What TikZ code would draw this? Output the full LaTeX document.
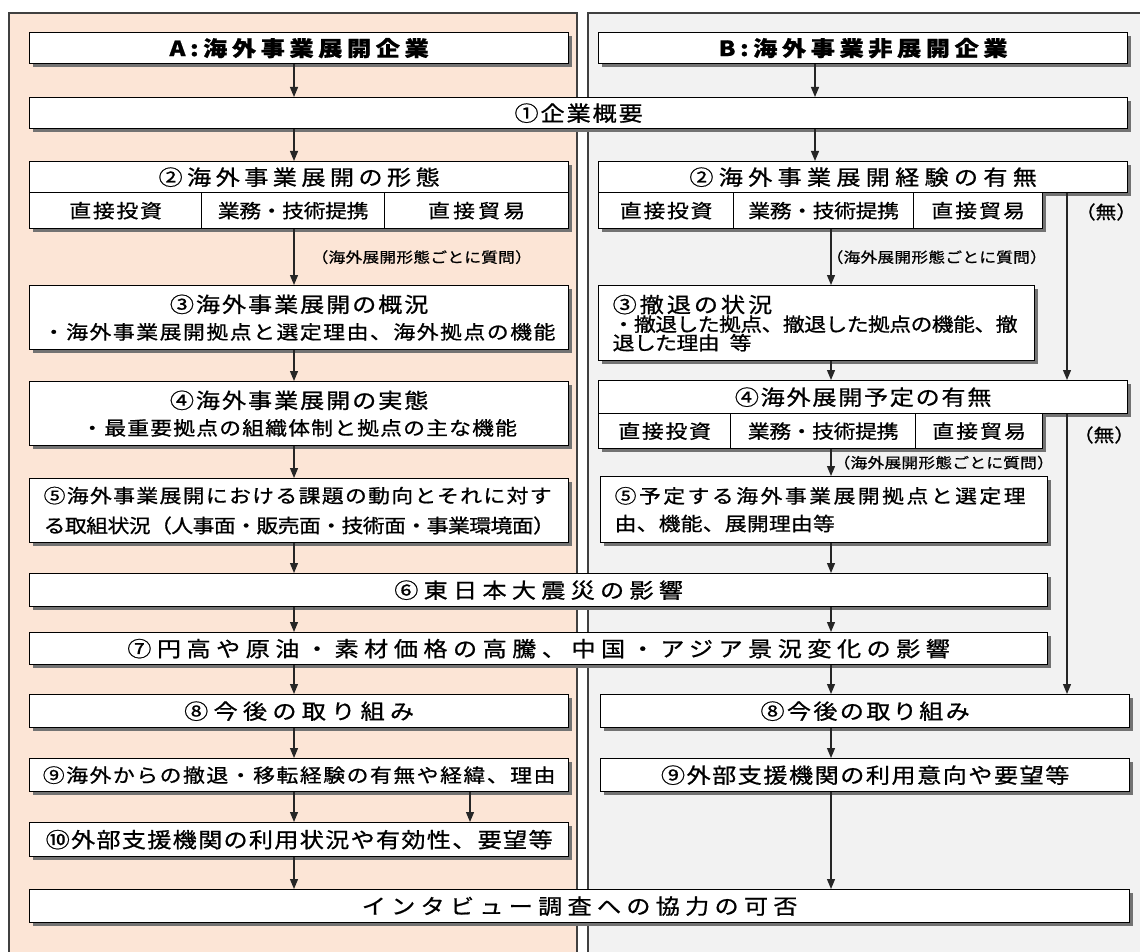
\documentclass[tikz,border=0pt]{standalone}
\usepackage{fontspec}
\newfontfamily\jp[FakeStretch=1.15, FakeBold=0.8]{Noto Sans CJK JP}
\usetikzlibrary{positioning,shadows,arrows.meta}
\definecolor{peach}{RGB}{252,229,214}
\definecolor{panelgray}{RGB}{242,242,242}
\definecolor{edgegray}{RGB}{64,64,64}
\newcommand\ttxt[2]{{\fontsize{21}{25}\selectfont\addfontfeature{LetterSpace=#1}#2}}
\newcommand\dtxt[2]{{\fontsize{19}{22}\selectfont\addfontfeature{LetterSpace=#1}#2}}
\tikzset{
  panel/.style={draw=edgegray, line width=1.5pt},
  box/.style={draw=black, line width=1.3pt, fill=white, anchor=north west, inner sep=0pt,
    drop shadow={shadow xshift=3pt, shadow yshift=-3pt, fill=black!55, opacity=1}},
  sz/.style 2 args={minimum width=#1pt, minimum height=#2pt},
  hdr/.style={font=\jp\bfseries\fontsize{21}{25}\selectfont\addfontfeature{LetterSpace=#1}},
  ttl/.style={font=\jp\fontsize{21}{25}\selectfont\addfontfeature{LetterSpace=#1}},
  dtl/.style={font=\jp\fontsize{19}{22}\selectfont\addfontfeature{LetterSpace=#1}},
  cell/.style={box, font=\jp\fontsize{19}{22}\selectfont\addfontfeature{LetterSpace=#1}},
  lbl/.style={font=\jp\fontsize{14.5}{17}\selectfont\addfontfeature{LetterSpace=2}, inner sep=0pt},
  none/.style={font=\jp\fontsize{18}{21}\selectfont, inner sep=0pt},
}
\begin{document}
\begin{tikzpicture}[x=1pt, y=-1pt, >={Triangle[length=10pt,width=8pt]},
    every edge/.append style={->, draw=black!85, line width=1.2pt}]
  \useasboundingbox (0,0) rectangle (1140,952);
  % two panels
  \draw[panel, fill=peach] (9,13) rectangle (577,990);
  \draw[panel, fill=panelgray] (588,13) rectangle (1180,990);

  % arrow columns
  \coordinate (xL) at (294,0);
  \coordinate (xL2) at (470,0);
  \coordinate (xR1) at (815,0);
  \coordinate (xR) at (831,0);
  \coordinate (xN) at (1067,0);

  \node [box, sz={539}{31}, hdr=22] (hA) at (29,32) {A:海外事業展開企業};
  \node [box, sz={529}{31}, hdr=22] (hB) at (598,32) {B:海外事業非展開企業};
  \node [box, sz={1098}{31}, ttl=9] (c1) at (29,97) {①企業概要};

  % A side, 2-5
  \node [box, sz={539}{31}, ttl=21] (b2L) at (29,161) {②海外事業展開の形態};
  \node [cell=9, sz={172}{36}] (b2La) at (29,192) {直接投資};
  \node [cell=-2, sz={183}{36}] (b2Lb) at (201,192) {業務・技術提携};
  \node [cell=17, sz={184}{36}] (b2Lc) at (384,192) {直接貿易};
  \node [box, sz={539}{64}, align=center, font=\jp] (b3L) at (29,285)
    {\ttxt{9}{③海外事業展開の概況}\\[8pt]\dtxt{8}{・海外事業展開拠点と選定理由、海外拠点の機能}};
  \node [box, sz={539}{64}, align=center, font=\jp] (b4L) at (29,381)
    {\ttxt{9}{④海外事業展開の実態}\\[8pt]\dtxt{6}{・最重要拠点の組織体制と拠点の主な機能}};
  \node [box, sz={539}{64}, align=left, text width=511pt, inner xsep=14pt, font=\jp] (b5L) at (29,478)
    {\dtxt{7}{⑤海外事業展開における課題の動向とそれに対す}\\[11pt]\dtxt{-3}{る取組状況（人事面・販売面・技術面・事業環境面）}};

  % B side, 2-5
  \node [box, sz={529}{31}, ttl=25] (b2R) at (598,161) {②海外事業展開経験の有無};
  \node [cell=9, sz={135}{36}] (b2Ra) at (598,192) {直接投資};
  \node [cell=-2, sz={180}{36}] (b2Rb) at (733,192) {業務・技術提携};
  \node [cell=11, sz={129}{36}] (b2Rc) at (913,192) {直接貿易};
  \node [none] (none1) at (1106,212) {（無）};
  \node [box, sz={436}{75}, align=left, text width=408pt, inner xsep=14pt, font=\jp] (b3R) at (598,285)
    {\ttxt{14}{③撤退の状況}\\\dtxt{-3}{・撤退した拠点、撤退した拠点の機能、撤}\\\dtxt{-3}{退した理由\hspace{10pt}等}};
  \node [box, sz={529}{33}, ttl=8] (b4R) at (598,380) {④海外展開予定の有無};
  \node [cell=9, sz={132}{35}] (b4Ra) at (598,413) {直接投資};
  \node [cell=-2, sz={185}{35}] (b4Rb) at (730,413) {業務・技術提携};
  \node [cell=11, sz={127}{35}] (b4Rc) at (915,413) {直接貿易};
  \node [none] (none2) at (1104,435) {（無）};
  \node [box, sz={447}{66}, align=left, text width=419pt, inner xsep=14pt, font=\jp] (b5R) at (600,476)
    {\dtxt{13}{⑤予定する海外事業展開拠点と選定理}\\[9pt]\dtxt{1}{由、機能、展開理由等}};

  % common 6-7
  \node [box, sz={1018}{33}, ttl=25] (c6) at (29,573) {⑥東日本大震災の影響};
  \node [box, sz={1018}{32}, ttl=26] (c7) at (29,632) {⑦円高や原油・素材価格の高騰、中国・アジア景況変化の影響};

  % 8-10
  \node [box, sz={539}{33}, ttl=25] (b8L) at (29,694) {⑧今後の取り組み};
  \node [box, sz={529}{33}, ttl=11] (b8R) at (600,694) {⑧今後の取り組み};
  \node [box, sz={539}{33}, dtl=8] (b9L) at (29,758) {⑨海外からの撤退・移転経験の有無や経緯、理由};
  \node [box, sz={529}{33}, ttl=7] (b9R) at (600,758) {⑨外部支援機関の利用意向や要望等};
  \node [box, sz={539}{34}, ttl=6] (b10L) at (29,822) {⑩外部支援機関の利用状況や有効性、要望等};
  \node [box, sz={1100}{33}, ttl=25] (fin) at (29,889) {インタビュー調査への協力の可否};

  % connectors, A side
  \path (hA.south -| xL) edge (c1.north -| xL);
  \path (c1.south -| xL) edge (b2L.north -| xL);
  \path (b2Lb.south -| xL) edge node [lbl, right=17pt] {（海外展開形態ごとに質問）} (b3L.north -| xL);
  \path (b3L.south -| xL) edge (b4L.north -| xL);
  \path (b4L.south -| xL) edge (b5L.north -| xL);
  \path (b5L.south -| xL) edge (c6.north -| xL);
  \path (c6.south -| xL) edge (c7.north -| xL);
  \path (c7.south -| xL) edge (b8L.north -| xL);
  \path (b8L.south -| xL) edge (b9L.north -| xL);
  \path (b9L.south -| xL) edge (b10L.north -| xL);
  \path (b9L.south -| xL2) edge (b10L.north -| xL2);
  \path (b10L.south -| xL) edge (fin.north -| xL);

  % connectors, B side
  \path (hB.south -| xR1) edge (c1.north -| xR1);
  \path (c1.south -| xR1) edge (b2R.north -| xR1);
  \path (b2Rb.south -| xR) edge node [lbl, right=-5pt] {（海外展開形態ごとに質問）} (b3R.north -| xR);
  \path (b2R.south -| xN) edge (b4R.north -| xN);
  \path (b3R.south -| xR) edge (b4R.north -| xR);
  \path (b4Rb.south -| xR) edge node [lbl, right=2pt] {（海外展開形態ごとに質問）} (b5R.north -| xR);
  \path (b4R.south -| xN) edge (b8R.north -| xN);
  \path (b5R.south -| xR) edge (c6.north -| xR);
  \path (c6.south -| xR) edge (c7.north -| xR);
  \path (c7.south -| xR) edge (b8R.north -| xR);
  \path (b8R.south -| xR) edge (b9R.north -| xR);
  \path (b9R.south -| xR) edge (fin.north -| xR);
\end{tikzpicture}
\end{document}
